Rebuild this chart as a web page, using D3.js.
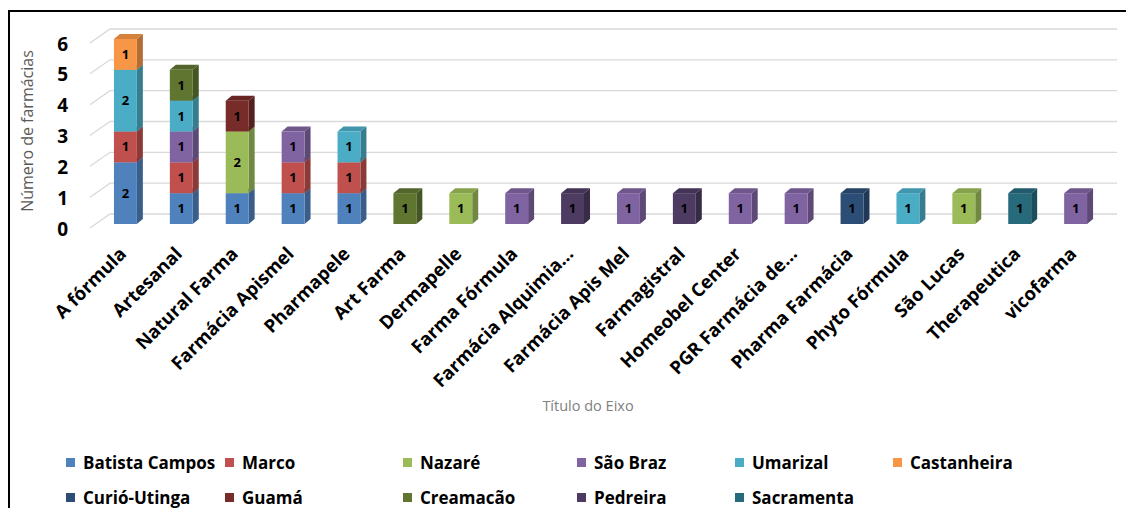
<!DOCTYPE html>
<html>

<head>
    <meta charset="utf-8">
    <script src="https://cdn.jsdelivr.net/npm/d3@7/dist/d3.min.js"></script>
    <style>
        body { margin: 0; background: #fff; }
        text { font-family: "Open Sans", "DejaVu Sans", sans-serif; }
    </style>
</head>

<body>
    <div id="my_dataviz"></div>
    <script>

        // categories on the X axis
        var categories = ["A fórmula", "Artesanal", "Natural Farma", "Farmácia Apismel", "Pharmapele",
            "Art Farma", "Dermapelle", "Farma Fórmula", "Farmácia Alquimia...", "Farmácia Apis Mel",
            "Farmagistral", "Homeobel Center", "PGR Farmácia de...", "Pharma Farmácia", "Phyto Fórmula",
            "São Lucas", "Therapeutica", "vicofarma"];

        // series (bairros) and their colours
        var series = ["Batista Campos", "Marco", "Nazaré", "São Braz", "Umarizal", "Castanheira",
            "Curió-Utinga", "Guamá", "Creamacão", "Pedreira", "Sacramenta"];
        var seriesColors = ["#4f81bd", "#c0504d", "#9bbb59", "#8064a2", "#4bacc6", "#f79646",
            "#2c4d75", "#772c2a", "#5f7530", "#4d3b62", "#276a7c"];

        // values per series, one per category
        var batistaCampos = [2, 1, 1, 1, 1, 0, 0, 0, 0, 0, 0, 0, 0, 0, 0, 0, 0, 0];
        var marco         = [1, 1, 0, 1, 1, 0, 0, 0, 0, 0, 0, 0, 0, 0, 0, 0, 0, 0];
        var nazare        = [0, 0, 2, 0, 0, 0, 1, 0, 0, 0, 0, 0, 0, 0, 0, 1, 0, 0];
        var saoBraz       = [0, 1, 0, 1, 0, 0, 0, 1, 0, 1, 0, 1, 1, 0, 0, 0, 0, 1];
        var umarizal      = [2, 1, 0, 0, 1, 0, 0, 0, 0, 0, 0, 0, 0, 0, 1, 0, 0, 0];
        var castanheira   = [1, 0, 0, 0, 0, 0, 0, 0, 0, 0, 0, 0, 0, 0, 0, 0, 0, 0];
        var curioUtinga   = [0, 0, 0, 0, 0, 0, 0, 0, 0, 0, 0, 0, 0, 1, 0, 0, 0, 0];
        var guama         = [0, 0, 1, 0, 0, 0, 0, 0, 0, 0, 0, 0, 0, 0, 0, 0, 0, 0];
        var creamacao     = [0, 1, 0, 0, 0, 1, 0, 0, 0, 0, 0, 0, 0, 0, 0, 0, 0, 0];
        var pedreira      = [0, 0, 0, 0, 0, 0, 0, 0, 1, 0, 1, 0, 0, 0, 0, 0, 0, 0];
        var sacramenta    = [0, 0, 0, 0, 0, 0, 0, 0, 0, 0, 0, 0, 0, 0, 0, 0, 1, 0];

        var yTicks = [0, 1, 2, 3, 4, 5, 6];

        var seriesValues = [batistaCampos, marco, nazare, saoBraz, umarizal, castanheira,
            curioUtinga, guama, creamacao, pedreira, sacramenta];

        // build rows for d3.stack
        var data = categories.map(function (c, i) {
            var row = { cat: c };
            series.forEach(function (s, j) { row[s] = seriesValues[j][i]; });
            return row;
        });

        var W = 1126, H = 508;
        var depthX = 6, depthY = -5;       // bar depth
        var floorX = 20, floorY = -14;     // floor depth (front edge -> back wall)

        var svg = d3.select("#my_dataviz")
            .append("svg")
            .attr("width", W)
            .attr("height", H);

        // frame
        svg.append("rect")
            .attr("x", 9).attr("y", 11)
            .attr("width", 1200).attr("height", 600)
            .attr("fill", "none").attr("stroke", "#000").attr("stroke-width", 2);

        var x = d3.scaleBand()
            .domain(categories)
            .range([86, 1115])
            .paddingInner(0.59)
            .paddingOuter(0.5);

        var y = d3.scaleLinear()
            .domain([0, 6])
            .range([224, 39]);

        var color = d3.scaleOrdinal().domain(series).range(seriesColors);

        // gridlines (side wall diagonal + back wall)
        var grid = svg.append("g");
        yTicks.forEach(function (t) {
            var yb = y(t) - 10;
            grid.append("path")
                .attr("d", "M90," + (yb - floorY) + "L" + (90 + floorX) + "," + yb + "L1117," + yb)
                .attr("fill", "none")
                .attr("stroke", "#d9d9d9")
                .attr("stroke-width", 1.3);
        });

        // y axis labels
        svg.append("g")
            .selectAll("text")
            .data(yTicks)
            .enter().append("text")
            .attr("x", 68)
            .attr("y", function (d) { return y(d) + 5; })
            .attr("dy", "0.35em")
            .attr("text-anchor", "end")
            .style("font-size", "19px")
            .style("font-weight", "bold")
            .style("fill", "#000")
            .text(function (d) { return d; });

        // y axis title
        svg.append("text")
            .attr("transform", "translate(27,131) rotate(-90)")
            .attr("text-anchor", "middle")
            .attr("dy", "0.35em")
            .style("font-size", "16px")
            .style("fill", "#595959")
            .text("Número de farmácias");

        // stacked 3D bars
        var stackedData = d3.stack().keys(series)(data);
        var bw = x.bandwidth();

        var segs = [];
        stackedData.forEach(function (layer) {
            layer.forEach(function (d) {
                if (d[1] - d[0] > 0) segs.push({ key: layer.key, d0: d[0], d1: d[1], cat: d.data.cat });
            });
        });
        // draw bottom to top within each bar
        segs.sort(function (a, b) { return a.d0 - b.d0; });

        var bars = svg.append("g");
        segs.forEach(function (s) {
            var x0 = x(s.cat), x1 = x0 + bw;
            var yt = y(s.d1), yb = y(s.d0);
            var c = d3.color(color(s.key));
            var g = bars.append("g");
            // side
            g.append("path")
                .attr("d", "M" + x1 + "," + yb + "L" + (x1 + depthX) + "," + (yb + depthY) +
                    "L" + (x1 + depthX) + "," + (yt + depthY) + "L" + x1 + "," + yt + "Z")
                .attr("fill", c.darker(0.9));
            // top
            g.append("path")
                .attr("d", "M" + x0 + "," + yt + "L" + (x0 + depthX) + "," + (yt + depthY) +
                    "L" + (x1 + depthX) + "," + (yt + depthY) + "L" + x1 + "," + yt + "Z")
                .attr("fill", c.darker(0.4));
            // front
            g.append("rect")
                .attr("x", x0).attr("y", yt)
                .attr("width", bw).attr("height", yb - yt)
                .attr("fill", c);
            // value label
            g.append("text")
                .attr("x", x0 + bw / 2)
                .attr("y", (yt + yb) / 2)
                .attr("dy", "0.35em")
                .attr("text-anchor", "middle")
                .style("font-size", "13px")
                .style("font-weight", "bold")
                .style("fill", "#000")
                .text(s.d1 - s.d0);
        });

        // x axis labels
        svg.append("g")
            .selectAll("text")
            .data(categories)
            .enter().append("text")
            .attr("transform", function (d) {
                return "translate(" + (x(d) + bw / 2 + 2) + ",255) rotate(-45)";
            })
            .attr("text-anchor", "end")
            .style("font-size", "18.5px")
            .style("font-weight", "bold")
            .style("fill", "#000")
            .text(function (d) { return d; });

        // x axis title
        svg.append("text")
            .attr("x", 588).attr("y", 406)
            .attr("dy", "0.35em")
            .attr("text-anchor", "middle")
            .style("font-size", "14.5px")
            .style("fill", "#808080")
            .text("Título do Eixo");

        // legend
        var legendCols = [66, 225, 403, 577, 735, 893];
        var legendRows = [463, 498];
        var legend = svg.append("g")
            .selectAll("g")
            .data(series)
            .enter().append("g")
            .attr("transform", function (d, i) {
                return "translate(" + legendCols[i % 6] + "," + legendRows[Math.floor(i / 6)] + ")";
            });
        legend.append("rect")
            .attr("x", 0).attr("y", -5)
            .attr("width", 9).attr("height", 9)
            .attr("fill", function (d) { return color(d); });
        legend.append("text")
            .attr("x", 17)
            .attr("dy", "0.35em")
            .style("font-size", "17px")
            .style("font-weight", "bold")
            .style("fill", "#000")
            .text(function (d) { return d; });

    </script>
</body>

</html>
